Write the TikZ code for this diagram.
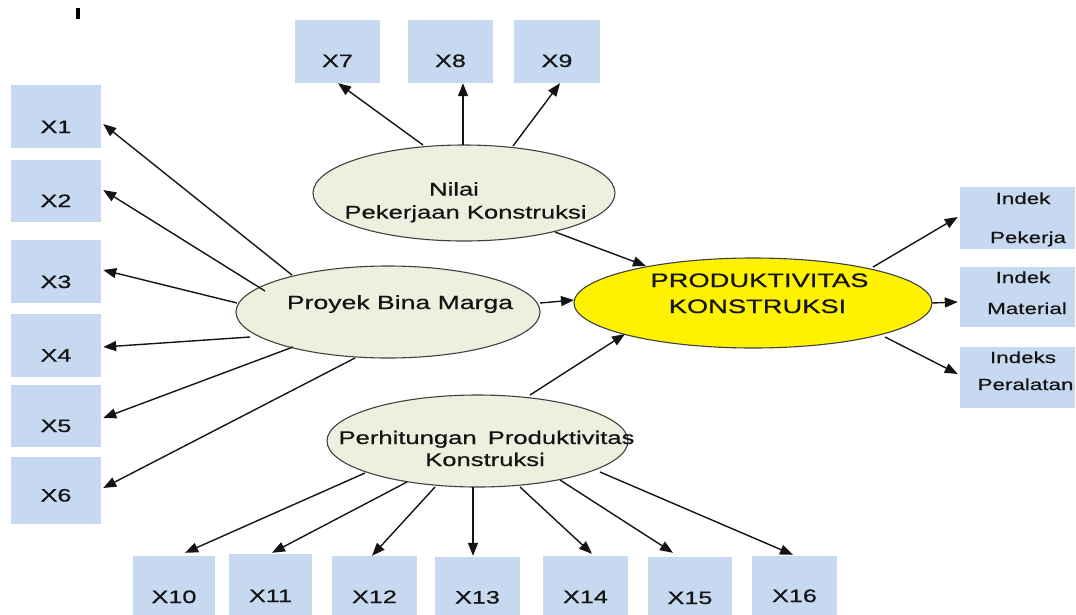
\documentclass[tikz,border=0pt]{standalone}
\usepackage{fontspec}
\setmainfont{Liberation Sans}[FakeStretch=1.4,FakeBold=0.6]
\usetikzlibrary{shapes.geometric,arrows.meta,calc}
\definecolor{boxblue}{RGB}{198,217,240}
\definecolor{ellfill}{RGB}{235,241,222}
\definecolor{ellline}{RGB}{64,64,64}
\definecolor{ink}{RGB}{20,20,20}
\tikzset{
  ind/.style={fill=boxblue, draw=none, inner sep=0pt, minimum height=63pt},
  lat/.style={shape=ellipse, fill=ellfill, draw=ellline, line width=1.1pt, inner sep=0pt},
  prodst/.style={shape=ellipse, fill=yellow, draw=ellline, line width=1.1pt, inner sep=0pt},
  arr/.style={draw=ink, line width=1.4pt, -{Triangle[length=13pt,width=10pt]}},
  lbl/.style={anchor=base, inner sep=0pt, text=ink, font=\fontsize{18}{21}\selectfont},
  rlbl/.style={anchor=base, inner sep=0pt, text=ink, font=\fontsize{16}{19}\selectfont},
  etxt/.style={anchor=base, inner sep=0pt, text=ink, font=\fontsize{18.3}{22}\selectfont},
  ptxt/.style={anchor=base, inner sep=0pt, text=ink, font=\fontsize{19.5}{23}\selectfont}
}
\begin{document}
\begin{tikzpicture}[x=1pt,y=-1pt]
\useasboundingbox (0,0) rectangle (1076,614);
\clip (0,0) rectangle (1076,614);
\fill[black] (76,8) rectangle (80,19);
% left boxes
\node[ind, minimum width=90pt] (x1) at (56,116.5) {};
\node[ind, minimum width=90pt, minimum height=62pt] (x2) at (56,191) {};
\node[ind, minimum width=90pt] (x3) at (56,271.5) {};
\node[ind, minimum width=90pt] (x4) at (56,345.5) {};
\node[ind, minimum width=90pt, minimum height=62pt] (x5) at (56,416) {};
\node[ind, minimum width=90pt, minimum height=67pt] (x6) at (56,490.5) {};
% top boxes
\node[ind, minimum width=85pt] (x7) at (337.5,51.5) {};
\node[ind, minimum width=85pt] (x8) at (450.5,51.5) {};
\node[ind, minimum width=86pt] (x9) at (557,51.5) {};
% bottom boxes
\node[ind, minimum width=82pt] (x10) at (174,587.5) {};
\node[ind, minimum width=83pt] (x11) at (270.5,585.5) {};
\node[ind, minimum width=85pt] (x12) at (374.5,587.5) {};
\node[ind, minimum width=85pt] (x13) at (477.5,588.5) {};
\node[ind, minimum width=85pt] (x14) at (585.5,587.5) {};
\node[ind, minimum width=84pt] (x15) at (690,588.5) {};
\node[ind, minimum width=85pt] (x16) at (794.5,587.5) {};
% right boxes
\node[ind, minimum width=115pt, minimum height=62pt] (r1) at (1017.5,218) {};
\node[ind, minimum width=115pt, minimum height=60pt] (r2) at (1017.5,297) {};
\node[ind, minimum width=115pt, minimum height=61pt] (r3) at (1017.5,377.5) {};
% ellipses
\node[lat, minimum width=302pt, minimum height=96pt] (nilai) at (464,193) {};
\node[lat, minimum width=304pt, minimum height=92pt] (pbm) at (388,312) {};
\node[lat, minimum width=301pt, minimum height=92pt] (perh) at (477.5,441) {};
\node[prodst, minimum width=358pt, minimum height=90pt] (prod) at (753,303) {};
% arrows from Proyek Bina Marga
\draw[arr] ($(pbm.center)+(-96,-37)$) -- ($(x1.east)+(2,7.5)$);
\draw[arr] ($(pbm.center)+(-123,-21)$) -- ($(x2.east)+(2,-1)$);
\draw[arr] ($(pbm.center)+(-151,-9)$) -- ($(x3.east)+(2,-1.5)$);
\draw[arr] ($(pbm.center)+(-138,25)$) -- ($(x4.east)+(2,1.5)$);
\draw[arr] ($(pbm.center)+(-95,35)$) -- ($(x5.east)+(2,2)$);
\draw[arr] ($(pbm.center)+(-33,46)$) -- ($(x6.east)+(2,-2.5)$);
\draw[arr] ($(pbm.center)+(152,-9)$) -- ($(prod.center)+(-179,-3)$);
% arrows from Nilai
\draw[arr] ($(nilai.center)+(-41,-48)$) -- ($(x7.south)+(0.5,0)$);
\draw[arr] ($(nilai.center)+(-1,-48)$) -- ($(x8.south)+(12.5,0)$);
\draw[arr] ($(nilai.center)+(49,-47)$) -- ($(x9.south)+(3,0)$);
\draw[arr] ($(nilai.center)+(91,39)$) -- ($(prod.center)+(-107,-37)$);
% arrows from Perhitungan
\draw[arr] ($(perh.center)+(52.5,-46)$) -- ($(prod.center)+(-128,31)$);
\draw[arr] ($(perh.center)+(-112.5,32)$) -- ($(x10.north)+(11,-3)$);
\draw[arr] ($(perh.center)+(-70.5,41)$) -- ($(x11.north)+(1.5,-1)$);
\draw[arr] ($(perh.center)+(-42.5,46)$) -- ($(x12.north)+(-2.5,0)$);
\draw[arr] ($(perh.center)+(-4.5,46)$) -- ($(x13.north)+(-4.5,-1)$);
\draw[arr] ($(perh.center)+(42.5,46)$) -- ($(x14.north)+(6.5,-2)$);
\draw[arr] ($(perh.center)+(82.5,39)$) -- ($(x15.north)+(-17,-4)$);
\draw[arr] ($(perh.center)+(122.5,31)$) -- ($(x16.north)+(-1.5,-1)$);
% arrows from Produktivitas
\draw[arr] ($(prod.center)+(120,-36)$) -- ($(r1.west)+(-2,-1)$);
\draw[arr] ($(prod.center)+(179,0)$) -- ($(r2.west)+(-2,5)$);
\draw[arr] ($(prod.center)+(132,34)$) -- ($(r3.west)+(-2,-3.5)$);
% box labels
\node[lbl] (x1t) at (56,133) {X1};
\node[lbl] (x2t) at (56,207) {X2};
\node[lbl] (x3t) at (56,288) {X3};
\node[lbl] (x4t) at (56,361.5) {X4};
\node[lbl] (x5t) at (56,432) {X5};
\node[lbl] (x6t) at (56,501.5) {X6};
\node[lbl] (x7t) at (337.5,67) {X7};
\node[lbl] (x8t) at (450.5,67) {X8};
\node[lbl] (x9t) at (557,67) {X9};
\node[lbl] (x10t) at (174,603) {X10};
\node[lbl] (x11t) at (270.5,602) {X11};
\node[lbl] (x12t) at (374.5,603) {X12};
\node[lbl] (x13t) at (477.5,603.5) {X13};
\node[lbl] (x14t) at (585.5,603) {X14};
\node[lbl] (x15t) at (690,604) {X15};
\node[lbl] (x16t) at (794.5,602) {X16};
% right labels
\node[rlbl] (r1a) at (1023,204) {Indek};
\node[rlbl] (r1b) at (1028,243) {Pekerja};
\node[rlbl] (r2a) at (1023,283) {Indek};
\node[rlbl] (r2b) at (1027,314) {Material};
\node[rlbl] (r3a) at (1023,363) {Indeks};
\node[rlbl] (r3b) at (1025.5,390) {Peralatan};
% ellipse texts
\node[etxt] (nilaia) at (454,195.5) {Nilai};
\node[etxt] (nilaib) at (465.5,218.5) {Pekerjaan Konstruksi};
\node[etxt, font=\fontsize{19}{22}\selectfont] (pbmt) at (400,309) {Proyek Bina Marga};
\node[etxt] (perha) at (486.5,444) {Perhitungan\hspace{4pt} Produktivitas};
\node[etxt] (perhb) at (485,466) {Konstruksi};
\node[ptxt] (proda) at (759.5,287) {PRODUKTIVITAS};
\node[ptxt] (prodb) at (757.5,313) {KONSTRUKSI};
\end{tikzpicture}
\end{document}
